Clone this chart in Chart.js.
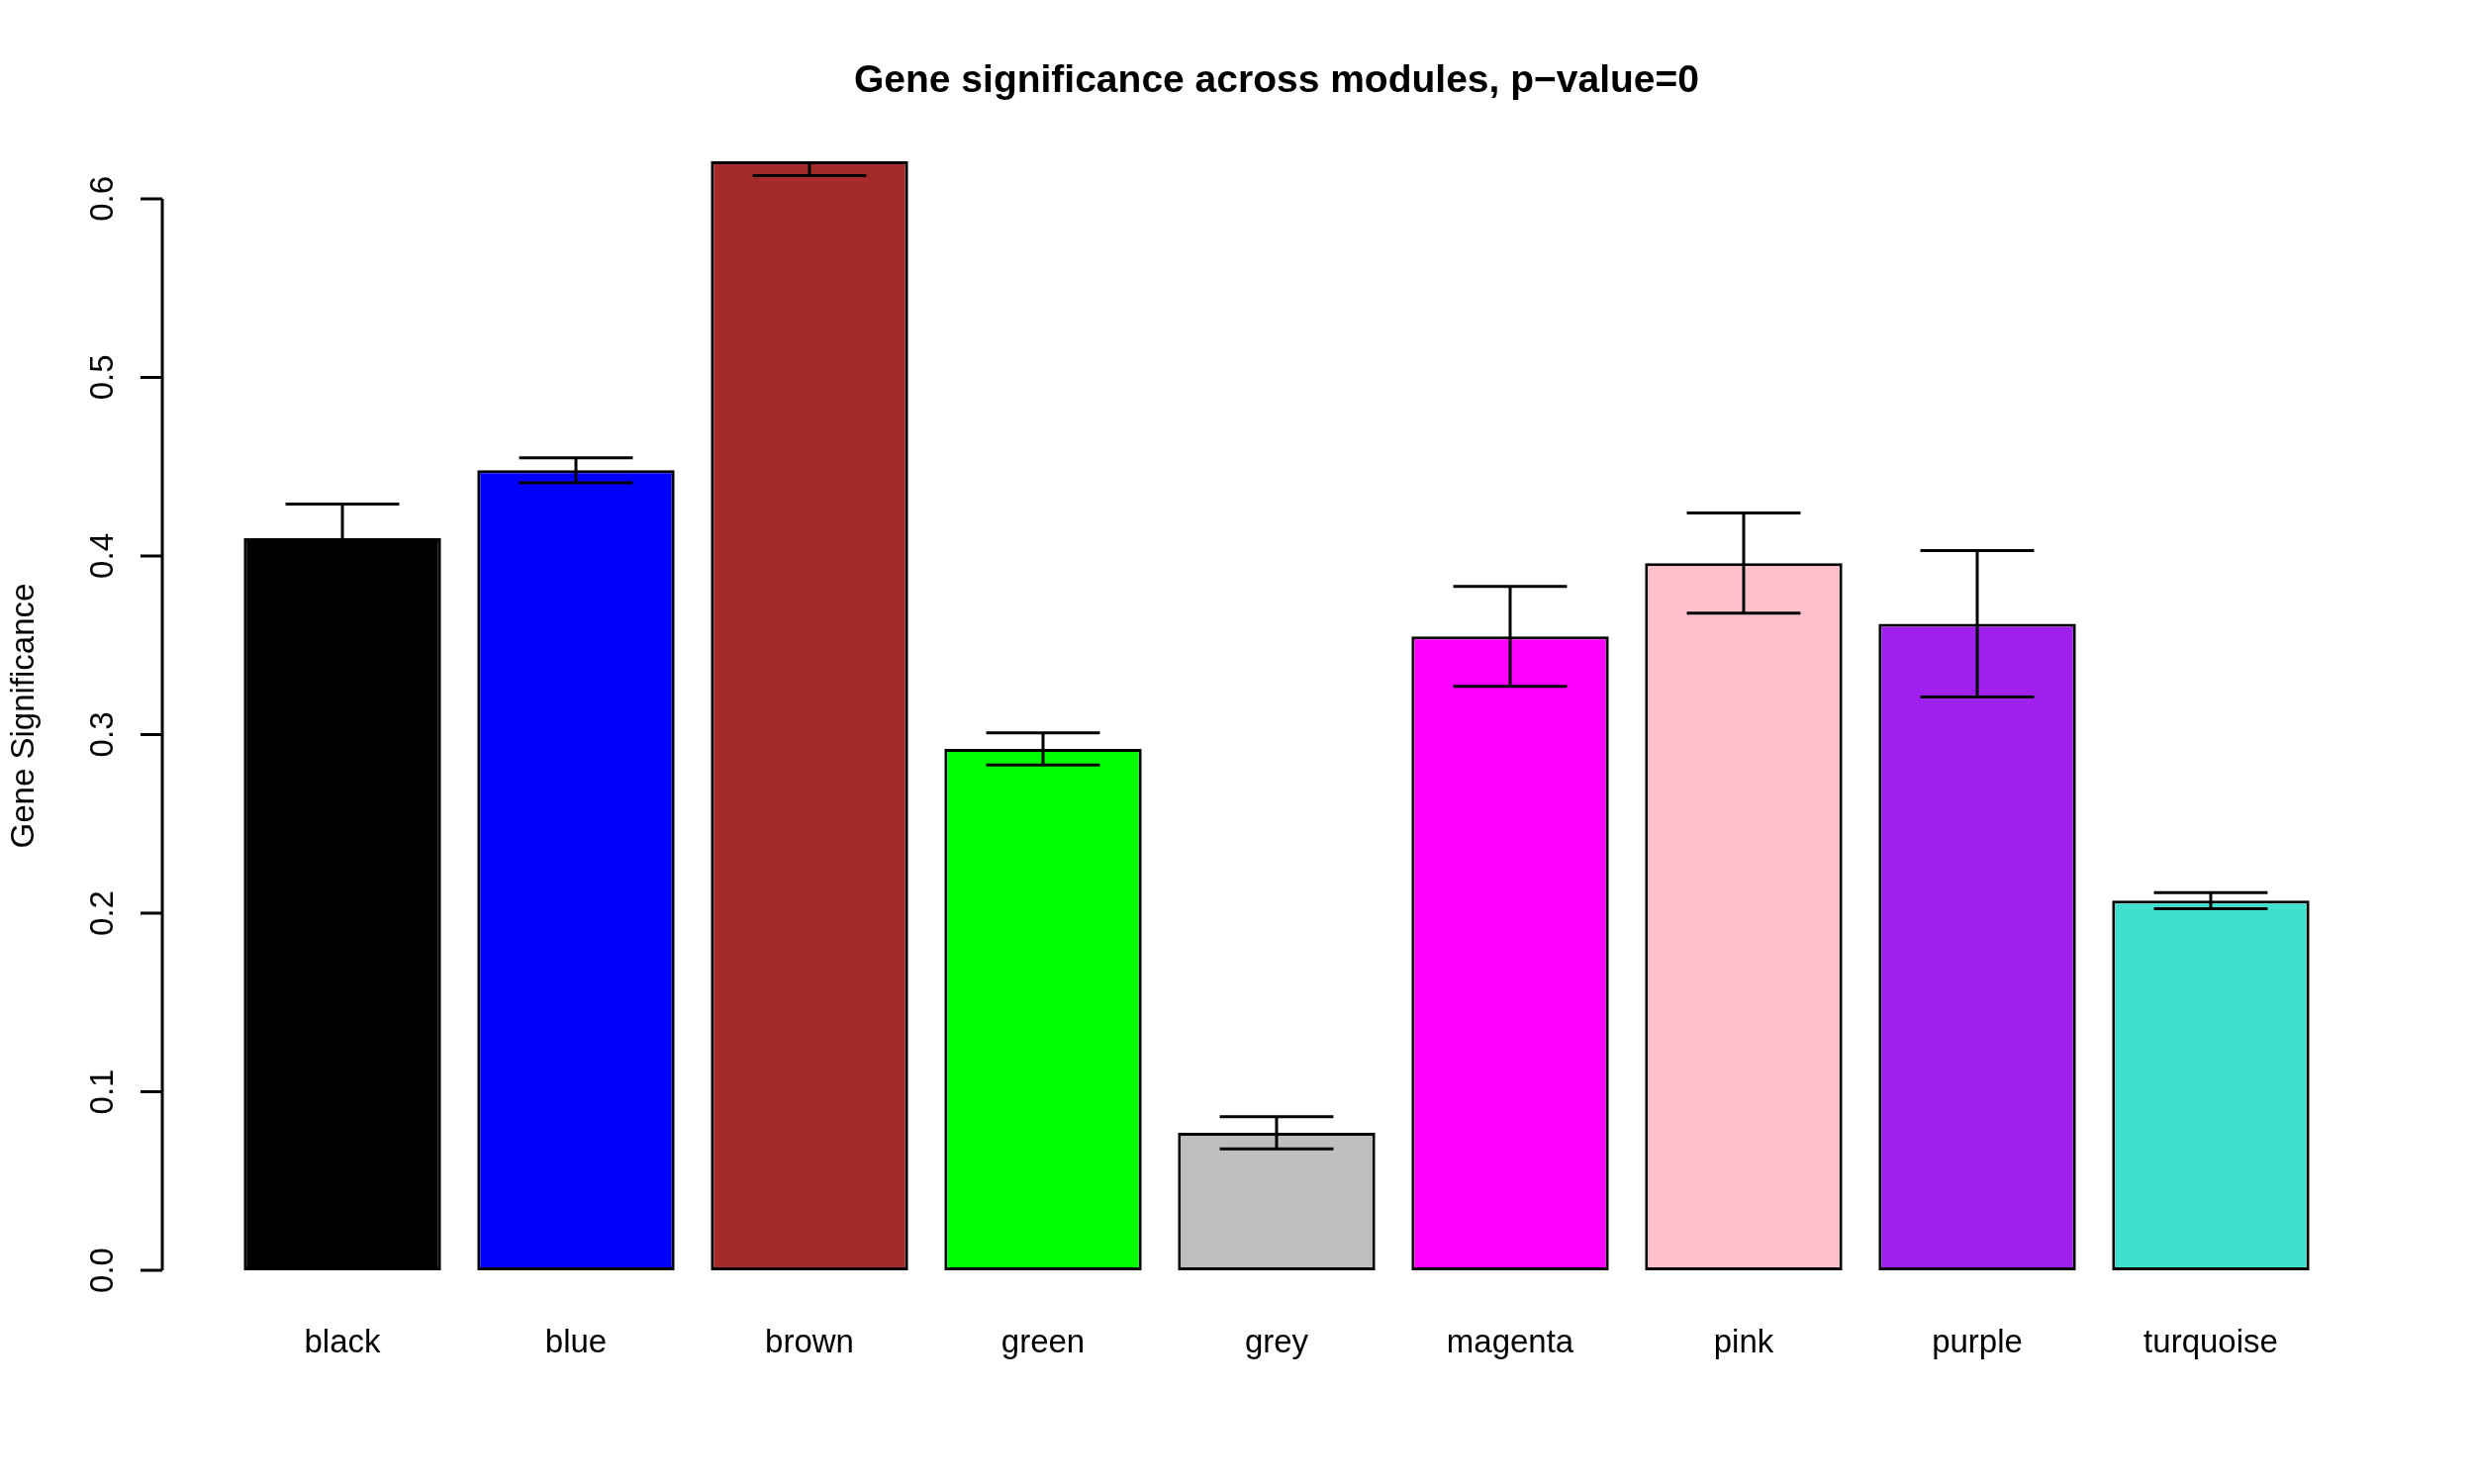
<!DOCTYPE html>
<html>
<head>
<meta charset="utf-8">
<script src="https://cdn.jsdelivr.net/npm/chart.js@4.4.1/dist/chart.umd.min.js"></script>
<style>
  html, body { margin: 0; padding: 0; background: #ffffff; }
  canvas { display: block; }
</style>
</head>
<body>
<canvas id="gsChart" width="2500" height="1500"></canvas>
<script>
// module names and the colours of their bars
const modules = ["black", "blue", "brown", "green", "grey", "magenta", "pink", "purple", "turquoise"];
const barColors = ["#000000", "#0000FF", "#A52A2A", "#00FF00", "#BEBEBE", "#FF00FF", "#FFC0CB", "#A020F0", "#40E0D0"];
// mean gene significance and its standard error per module
const significance = [0.410, 0.448, 0.621, 0.292, 0.077, 0.355, 0.396, 0.362, 0.207];
const stdErr = [0.019, 0.007, 0.008, 0.009, 0.009, 0.028, 0.028, 0.041, 0.0045];
// y axis ticks
const yTicks = [0.0, 0.1, 0.2, 0.3, 0.4, 0.5, 0.6];

const titleText = "Gene significance across modules, p\u2212value=0";
const yTitle = "Gene Significance";
const fontFamily = "'Liberation Sans', Arial, Helvetica, sans-serif";

// draws the R style axis, labels, title and the error bars
const rStylePlugin = {
  id: "rStyle",
  afterDatasetsDraw(chart) {
    const ctx = chart.ctx;
    const area = chart.chartArea;
    const xs = chart.scales.x;
    const ys = chart.scales.y;
    const meta = chart.getDatasetMeta(0);

    // error bars, clipped to the plot region like R does
    ctx.save();
    ctx.beginPath();
    ctx.rect(area.left - 100, area.top, area.right - area.left + 200, area.bottom - area.top + 50);
    ctx.clip();
    ctx.strokeStyle = "#000000";
    ctx.lineWidth = 3;
    meta.data.forEach((bar, i) => {
      const half = bar.width * 0.288;
      const yUp = ys.getPixelForValue(significance[i] + stdErr[i]);
      const yLo = ys.getPixelForValue(significance[i] - stdErr[i]);
      ctx.beginPath();
      ctx.moveTo(bar.x, yUp);
      ctx.lineTo(bar.x, yLo);
      ctx.moveTo(bar.x - half, yUp);
      ctx.lineTo(bar.x + half, yUp);
      ctx.moveTo(bar.x - half, yLo);
      ctx.lineTo(bar.x + half, yLo);
      ctx.stroke();
    });
    ctx.restore();

    // y axis sits a bit left of the first category slot
    const slot = (xs.right - xs.left) / modules.length;
    const axisX = Math.round(area.left - slot * 0.27);
    const y0 = ys.getPixelForValue(yTicks[0]);
    const y1 = ys.getPixelForValue(yTicks[yTicks.length - 1]);

    ctx.save();
    ctx.strokeStyle = "#000000";
    ctx.lineWidth = 3;
    ctx.beginPath();
    ctx.moveTo(axisX, y0);
    ctx.lineTo(axisX, y1);
    yTicks.forEach((t) => {
      const y = ys.getPixelForValue(t);
      ctx.moveTo(axisX, y);
      ctx.lineTo(axisX - 22, y);
    });
    ctx.stroke();

    ctx.fillStyle = "#000000";
    ctx.font = "33px " + fontFamily;
    ctx.textAlign = "center";
    ctx.textBaseline = "middle";
    yTicks.forEach((t) => {
      const y = ys.getPixelForValue(t);
      ctx.save();
      ctx.translate(axisX - 59, y);
      ctx.rotate(-Math.PI / 2);
      ctx.fillText(t.toFixed(1), 0, 0);
      ctx.restore();
    });

    // y axis title
    ctx.save();
    ctx.translate(25, (area.top + area.bottom) / 2);
    ctx.rotate(-Math.PI / 2);
    ctx.fillText(yTitle, 0, 0);
    ctx.restore();

    // category names under the bars
    meta.data.forEach((bar, i) => {
      ctx.fillText(modules[i], bar.x, area.bottom + 74);
    });

    // main title, centred on the plot region
    const plotCenter = (axisX + area.right + (area.left - axisX)) / 2;
    ctx.font = "bold 39px " + fontFamily;
    ctx.fillText(titleText, plotCenter, 82);
    ctx.restore();
  }
};

const ctx = document.getElementById("gsChart").getContext("2d");
const chart = new Chart(ctx, {
  type: "bar",
  data: {
    labels: modules,
    datasets: [
      {
        label: yTitle,
        data: significance,
        backgroundColor: barColors,
        borderColor: "#000000",
        borderWidth: 3,
        borderSkipped: false,
        categoryPercentage: 1.0,
        barPercentage: 0.845,
      },
    ],
  },
  options: {
    responsive: false,
    animation: false,
    devicePixelRatio: 1,
    layout: {
      padding: { left: 228, right: 148, top: 163, bottom: 216 },
    },
    plugins: {
      legend: { display: false },
      title: { display: false },
      tooltip: { enabled: false },
    },
    scales: {
      x: { display: false },
      y: { display: false, min: 0, max: 0.621 },
    },
  },
  plugins: [rStylePlugin],
});
</script>
</body>
</html>
